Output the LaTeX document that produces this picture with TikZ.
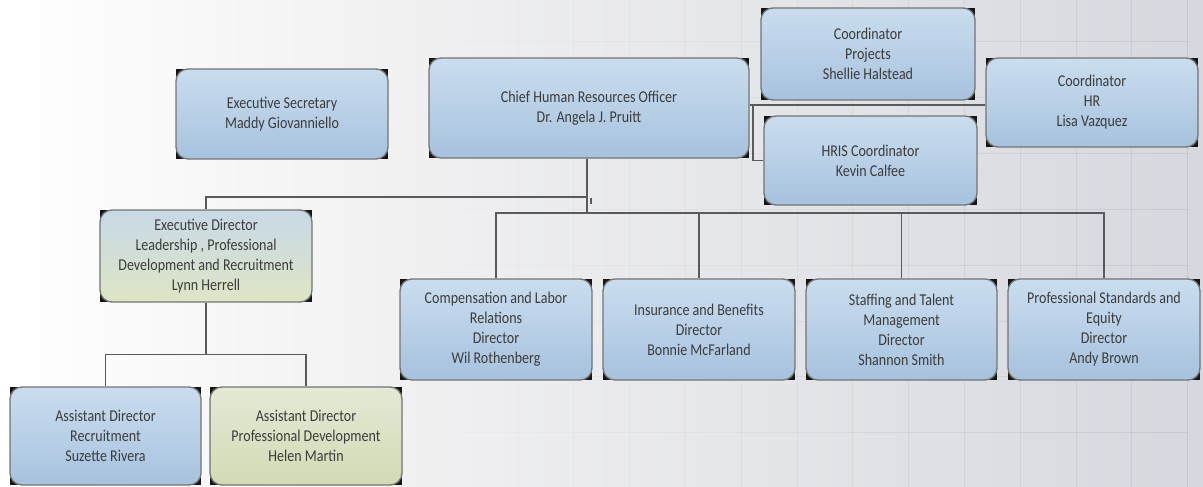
\documentclass[tikz,border=0pt]{standalone}
\usepackage{fontspec}
\setmainfont{Carlito}[FakeStretch=0.85]
\definecolor{txt}{HTML}{3C3C3C}
\definecolor{edge}{HTML}{5A5A5A}
\definecolor{bord}{HTML}{747474}
\definecolor{cornerc}{HTML}{151515}
\definecolor{bluetop}{HTML}{CADDEF}
\definecolor{bluebot}{HTML}{A7C2DE}
\definecolor{greentop}{HTML}{C8D9E7}
\definecolor{greenbot}{HTML}{DEE5C5}
\definecolor{pdtop}{HTML}{E4E9D6}
\definecolor{pdbot}{HTML}{D2DBB4}
\definecolor{bgA}{HTML}{FFFFFF}
\definecolor{bgB}{HTML}{F2F2F3}
\definecolor{bgC}{HTML}{D6D8DF}
\pgfdeclarehorizontalshading{bgshade}{100bp}{color(0bp)=(bgA); color(25bp)=(bgA); color(40bp)=(bgB); color(75bp)=(bgC); color(100bp)=(bgC)}
\pgfdeclarelayer{back}
\pgfdeclarelayer{mid}
\pgfsetlayers{back,mid,main}
\tikzset{
  box/.style={rounded corners=12pt, draw=bord, line width=1.3pt, text=txt,
    align=center, inner sep=0pt, font=\fontsize{16.5}{20}\selectfont},
  bluebox/.style={top color=bluetop, bottom color=bluebot},
  greenbox/.style={top color=greentop, bottom color=greenbot},
  pdbox/.style={top color=pdtop, bottom color=pdbot},
  cornerblk/.style={fill=cornerc},
  conn/.style={draw=edge, line width=1.6pt},
  gridline/.style={black, line width=1pt}
}
\newcommand{\orgbox}[7]{%
  \fill[cornerblk] (#2,#3) rectangle (#4,#5);
  \node[box,#6,minimum width={#4-#2},minimum height={#5-#3}] (#1) at ({(#2+#4)/2},{(#3+#5)/2}) {#7};
}
\begin{document}
\begin{tikzpicture}[x=1pt,y=-1pt]
\useasboundingbox (0,0) rectangle (1203,487);
\begin{pgfonlayer}{back}
  \shade[shading=bgshade] (0,0) rectangle (1203,487);
  \foreach \i in {0,...,12} {
    \pgfmathsetmacro\gx{518+55.8*\i}
    \pgfmathsetmacro\op{0.015+0.0045*\i}
    \draw[gridline, draw opacity=\op] (\gx,0) -- (\gx,487);
    \foreach \k in {0,...,7} {
      \pgfmathsetmacro\gy{42+55.8*\k}
      \draw[gridline, draw opacity=\op] (\gx-55.8,\gy) -- (\gx,\gy);
    }
  }
\end{pgfonlayer}

\orgbox{sec}{176}{69}{388}{159}{bluebox}{Executive Secretary\\Maddy Giovanniello}
\orgbox{chief}{429}{58}{749}{158}{bluebox}{Chief Human Resources Officer\\Dr. Angela J. Pruitt}
\orgbox{proj}{761}{8}{975}{100}{bluebox}{Coordinator\\Projects\\Shellie Halstead}
\orgbox{coordhr}{986}{58}{1198}{147}{bluebox}{Coordinator\\HR\\Lisa Vazquez}
\orgbox{hris}{764}{116}{977}{205}{bluebox}{HRIS Coordinator\\Kevin Calfee}
\orgbox{execdir}{100}{210}{312}{302}{greenbox}{Executive Director\\Leadership , Professional\\Development and Recruitment\\Lynn Herrell}
\orgbox{comp}{400}{279}{592}{380}{bluebox}{Compensation and Labor\\Relations\\Director\\Wil Rothenberg}
\orgbox{ins}{603}{279}{795}{380}{bluebox}{Insurance and Benefits\\Director\\Bonnie McFarland}
\orgbox{staff}{806}{279}{997}{380}{bluebox}{Staffing and Talent\\Management\\Director\\Shannon Smith}
\orgbox{prof}{1008}{279}{1200}{380}{bluebox}{Professional Standards and\\Equity\\Director\\Andy Brown}
\orgbox{asstrec}{10}{387}{201}{485}{bluebox}{Assistant Director\\Recruitment\\Suzette Rivera}
\orgbox{asstpd}{210}{387}{402}{485}{pdbox}{Assistant Director\\Professional Development\\Helen Martin}

\begin{pgfonlayer}{mid}
  \coordinate (b1) at (587,197);
  \coordinate (b2) at (587,213);
  \draw[conn] (b1 |- chief.south) -- (b2);
  \draw[conn] (b1) -| (execdir.north);
  \draw[conn] (b2) -| (comp.north);
  \draw[conn] (b2) -| (ins.north);
  \draw[conn] (b2) -| (staff.north);
  \draw[conn] (b2) -| (prof.north);
  \fill[edge] (589.5,198) rectangle (592,203.5);
  \path (execdir.south) ++(0,52) coordinate (b3);
  \draw[conn] (execdir.south) -- (b3);
  \draw[conn] (b3) -| (asstrec.north);
  \draw[conn] (b3) -| (asstpd.north);
  \coordinate (rj) at (753,105);
  \draw[conn] (chief.east |- rj) -- (coordhr.west |- rj);
  \draw[conn] (rj) |- (hris.west);
\end{pgfonlayer}
\end{tikzpicture}
\end{document}
